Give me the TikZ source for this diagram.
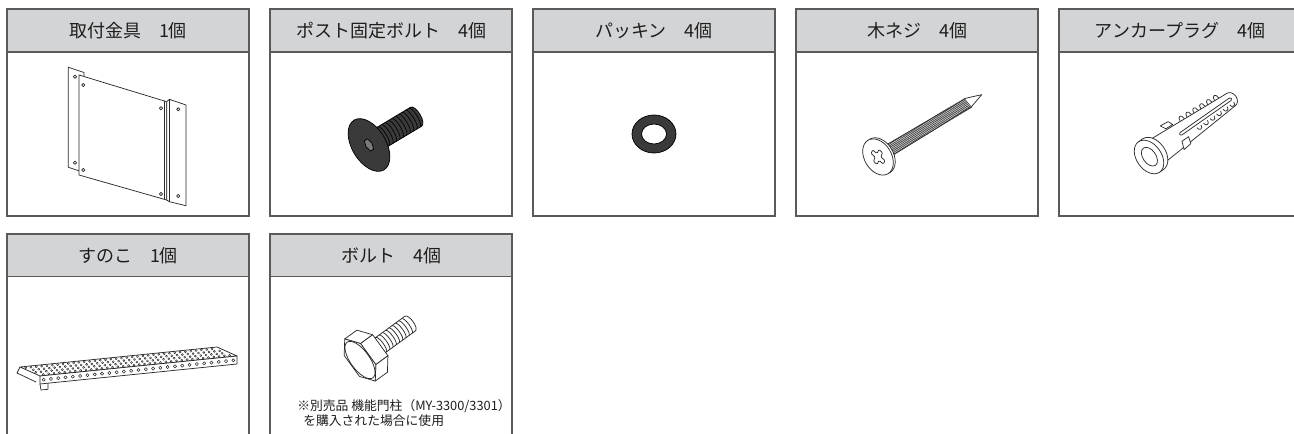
\documentclass[tikz,border=0pt]{standalone}
\usepackage{fontspec}
\newfontfamily\jp{Noto Sans CJK JP}
\usepackage{tikz}
\usetikzlibrary{positioning}

\definecolor{frame}{HTML}{5A5A5A}
\definecolor{headfill}{HTML}{D3D4D6}
\definecolor{txt}{HTML}{1E1E1E}
\definecolor{ink}{HTML}{2A2A2A}
\definecolor{metal}{HTML}{3A3A3A}
\definecolor{socket}{HTML}{7A7A7A}
\definecolor{ringc}{HTML}{3A3A3A}

\tikzset{
  head/.style={draw=frame, line width=0.9pt, fill=headfill, minimum width=181.5pt,
    minimum height=32.25pt, inner sep=0pt, outer sep=0pt, text=txt,
    font=\jp\fontsize{13.5}{16}\selectfont},
  body/.style={draw=frame, line width=0.9pt, fill=white, minimum width=181.5pt,
    minimum height=123pt, inner sep=0pt, outer sep=0pt},
  openbody/.style={body, draw=none, minimum height=117.75pt},
  note/.style={inner sep=0pt, anchor=base west, text=txt, font=\jp\fontsize{9.6}{11}\selectfont},
  part/.style={draw=ink, line width=0.55pt, line join=round}
}

\begin{document}
\begin{tikzpicture}[x=0.75pt, y=-0.75pt]
    \useasboundingbox (0,0) rectangle (1294,434);

        % Headers, first row
        \node[head]                     (h1) at (128,30.5) {取付金具　1個};
        \node[head, right=15.75pt of h1] (h2) {ポスト固定ボルト　4個};
        \node[head, right=15.75pt of h2] (h3) {パッキン　4個};
        \node[head, right=15.75pt of h3] (h4) {木ネジ　4個};
        \node[head, right=15.75pt of h4] (h5) {アンカープラグ　4個};

        % Headers, second row
        \node[head]                     (h6) at (128,255.5) {すのこ　1個};
        \node[head, right=15.75pt of h6] (h7) {ボルト　4個};

        % Bodies
        \node[body, below=0pt of h1] (b1) {};
        \node[body, below=0pt of h2] (b2) {};
        \node[body, below=0pt of h3] (b3) {};
        \node[body, below=0pt of h4] (b4) {};
        \node[body, below=0pt of h5] (b5) {};
        \node[openbody, below=0pt of h6] (b6) {};
        \node[openbody, below=0pt of h7] (b7) {};
        \draw[frame, line width=0.9pt] (b6.north west) -- (b6.south west) (b6.north east) -- (b6.south east);
        \draw[frame, line width=0.9pt] (b7.north west) -- (b7.south west) (b7.north east) -- (b7.south east);

        % Bracket
        \begin{scope}[part]
          \filldraw[fill=white] (68.3,67.3) -- (84,72.5) -- (84,172.5) -- (68.3,167.3) -- cycle;
          \filldraw[fill=white] (79,75) -- (166.7,101.7) -- (166.7,200) -- (79,175) -- cycle;
          \filldraw[fill=white] (166.7,101.7) -- (169.3,99.3) -- (186,105) -- (186,205.7) -- (169.3,201.7) -- (166.7,200) -- cycle;
          \draw (169.3,99.3) -- (169.3,201.7);
          \draw (164.5,101) -- (164.5,199.3);
          \foreach \x/\y in {75/76.7, 75/162.7, 83.3/85, 83.3/170, 161/108.3, 161/194, 178.3/109.3, 178.3/196}
            \draw (\x,\y) circle (1.6);
        \end{scope}

        % Post bolt
        \begin{scope}[shift={(369,145)}, rotate=31, part, draw=black]
          \filldraw[fill=metal] (6,-11) -- (55,-11) arc[start angle=-90, end angle=90, x radius=4.5, y radius=11] -- (6,11) -- cycle;
          \foreach \x in {17,21,...,53}
            \draw[line width=0.5pt] (\x,-11) arc[start angle=-90, end angle=90, x radius=3.2, y radius=11];
          \filldraw[fill=metal] (0,-29) -- (14,-11) -- (14,11) -- (0,29) -- cycle;
          \filldraw[fill=metal] (0,0) ellipse [x radius=17, y radius=29];
          \filldraw[fill=socket] (3.5,0) -- (1.8,6) -- (-1.8,6) -- (-3.5,0) -- (-1.8,-6) -- (1.8,-6) -- cycle;
        \end{scope}

        % Packing
        \fill[ringc, even odd rule] (654,134) ellipse [x radius=22, y radius=19] (654,134) ellipse [x radius=12.5, y radius=10];
        \draw[part, draw=black] (654,134) ellipse [x radius=22, y radius=19] (654,134) ellipse [x radius=12.5, y radius=10];

        % Wood screw
        \begin{scope}[shift={(878,157)}, rotate=31, part]
          \filldraw[fill=white] (6,-6.2) -- (106,-5) -- (121,0) -- (106,5) -- (6,6.2) -- cycle;
          \foreach \x in {14,15.2,...,105}
            \draw[line width=0.4pt] (\x,-6) -- (\x+1.8,6);
          \filldraw[fill=white] (0,-19.5) -- (15,-6.2) -- (15,6.2) -- (0,19.5) -- cycle;
          \filldraw[fill=white] (2.2,0) ellipse [x radius=13.5, y radius=19.5];
          \filldraw[fill=white] (0,0) ellipse [x radius=13.5, y radius=19.5];
          \begin{scope}[xscale=0.7, rotate=25]
            \draw[rounded corners=0.8pt] (-2.6,-8.5) -- (2.6,-8.5) -- (2.6,-2.6) -- (8.5,-2.6) -- (8.5,2.6) -- (2.6,2.6)
              -- (2.6,8.5) -- (-2.6,8.5) -- (-2.6,2.6) -- (-8.5,2.6) -- (-8.5,-2.6) -- (-2.6,-2.6) -- cycle;
          \end{scope}
        \end{scope}

        % Anchor plug
        \begin{scope}[shift={(1149,157)}, rotate=35, part]
          \filldraw[fill=white] (5,-14) -- (100,-7.5) arc[start angle=-90, end angle=90, x radius=6, y radius=7.5] -- (5,14) -- cycle;
          \draw[rounded corners=1pt] (38,-2.2) rectangle (101,0.8);
          \foreach \x in {46,54,...,86}
            \draw (\x,{-14+6.5*(\x-5)/95}) .. controls +(0,-6) and +(0,-6) .. +(5,0);
          \foreach \x in {56,64,...,96}
            \draw (\x,3.5) .. controls +(0,4.5) and +(0,4.5) .. +(5,0);
          \filldraw[fill=white] (30,-13.5) -- (27,-19) -- (36,-18) -- (38,-13) -- cycle;
          \filldraw[fill=white] (36,6) -- (33,14) -- (42,13) -- (44,6) -- cycle;
          \filldraw[fill=white] (5,0) ellipse [x radius=12.5, y radius=18.5];
          \fill[white] (0,-18.5) rectangle (5,18.5);
          \draw (0,-18.5) -- (5,-18.5) (0,18.5) -- (5,18.5);
          \filldraw[fill=white] (0,0) ellipse [x radius=12.5, y radius=18.5];
          \draw (0.5,0) ellipse [x radius=6.5, y radius=10.5];
        \end{scope}

        % Sunoko
        \begin{scope}[part]
          \filldraw[fill=white] (20,367) -- (217,347) -- (237,356) -- (40,376) -- cycle;
          \filldraw[fill=white] (40,376) -- (237,356) -- (237,364) -- (40,384) -- cycle;
          \draw (20,367) -- (17,373) -- (36,382);
          \draw (40,384) -- (41,390) -- (48,389.3) -- (48,383.3);
          \foreach \i in {0,...,35} \foreach \j in {0,1,2,3} {
            \pgfmathsetmacro\t{(\i+0.6+0.5*mod(\j,2))/37}
            \pgfmathsetmacro\s{(\j+0.5)/4}
            \draw[line width=0.35pt] ({20+197*\t+20*\s},{367-20*\t+9*\s}) circle (1.05);
          }
          \foreach \i in {0,...,26} {
            \pgfmathsetmacro\t{(\i+0.5)/27}
            \draw[line width=0.4pt] ({40+197*\t},{380-20*\t}) circle (1.6);
          }
        \end{scope}

        % Hex bolt
        \begin{scope}[shift={(360,360)}, rotate=36, part]
          \filldraw[fill=white] (12,-9) -- (62,-9) arc[start angle=-90, end angle=90, x radius=3.5, y radius=9] -- (12,9) -- cycle;
          \foreach \x in {22,26,...,60}
            \draw (\x,-9) arc[start angle=-90, end angle=90, x radius=2.5, y radius=9];
          \filldraw[fill=white] (0,-26) -- (10.1,-13) -- (25.1,-13) -- (15,-26) -- cycle;
          \filldraw[fill=white] (10.1,-13) -- (10.1,13) -- (25.1,13) -- (25.1,-13) -- cycle;
          \filldraw[fill=white] (10.1,13) -- (0,26) -- (15,26) -- (25.1,13) -- cycle;
          \filldraw[fill=white] (10.1,13) -- (0,26) -- (-10.1,13) -- (-10.1,-13) -- (0,-26) -- (10.1,-13) -- cycle;
          \draw (0,0) ellipse [x radius=9.5, y radius=22];
        \end{scope}

        % Note
        \node[note] (note1) at (297,410.5) {※別売品 機能門柱（MY-3300/3301）};
        \node[note] (note2) at (303,425) {を購入された場合に使用};
      \end{tikzpicture}
\end{document}
